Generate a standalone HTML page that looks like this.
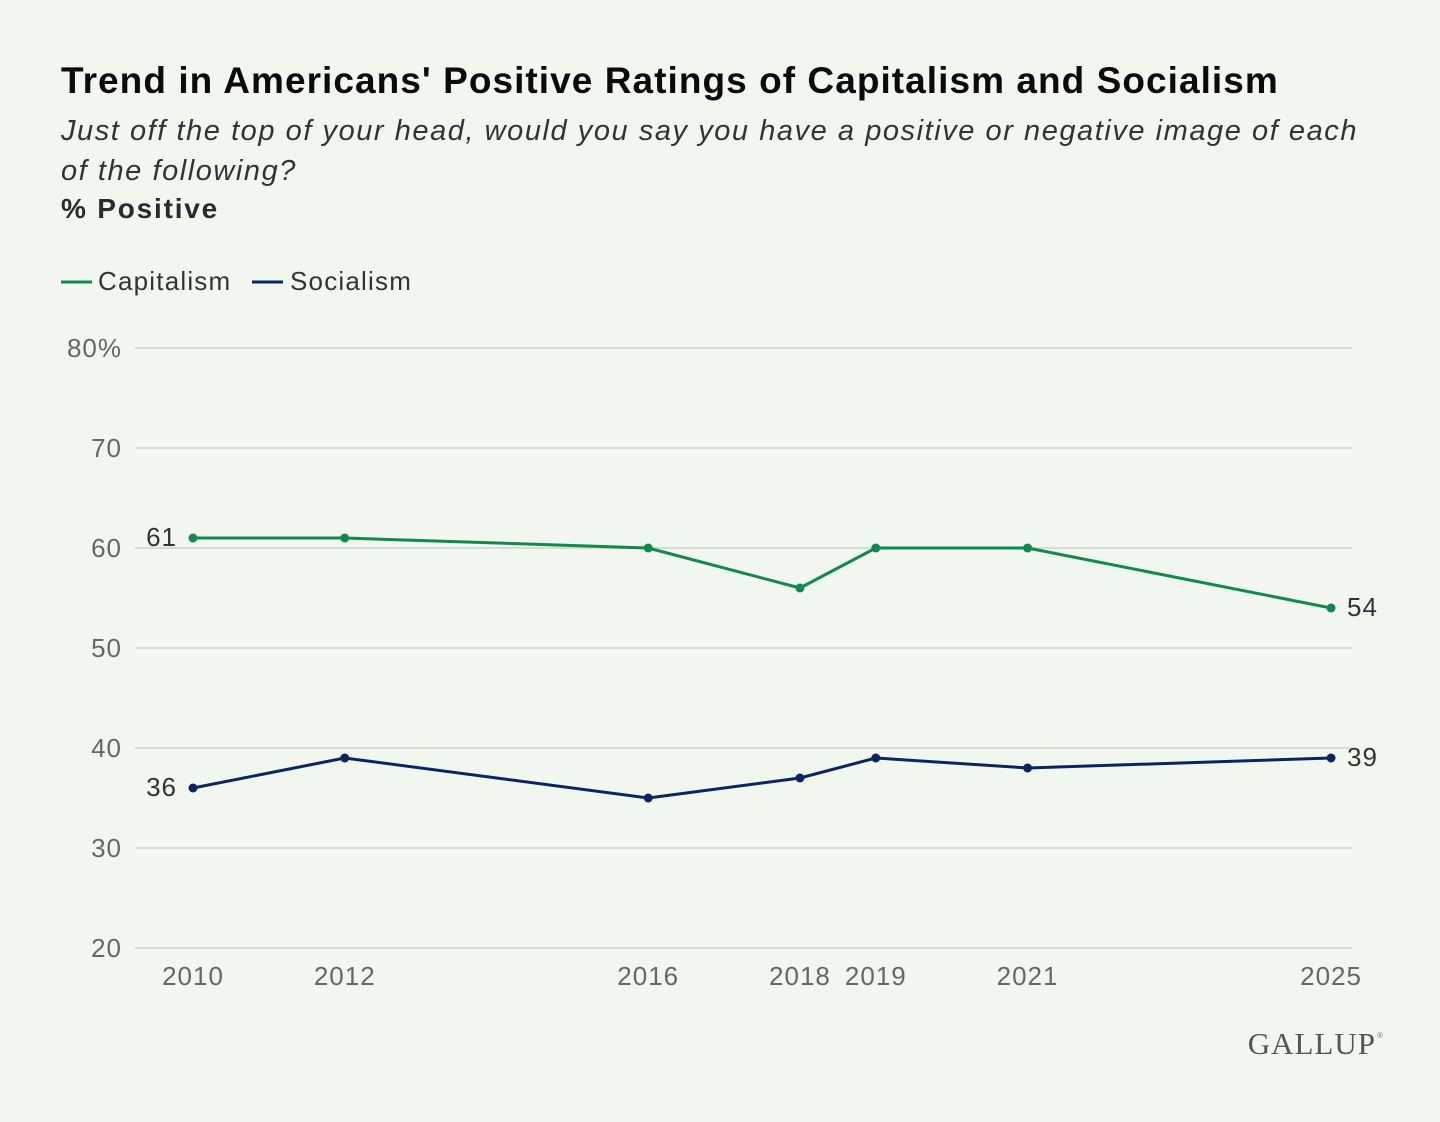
<!DOCTYPE html>
<html><head><meta charset="utf-8"><style>
body{margin:0;background:#f1f7ef;width:1440px;height:1122px;overflow:hidden;font-family:"Liberation Sans",sans-serif;}
.t{position:absolute;left:61px;top:60px;font-size:37px;font-weight:bold;color:#0b0b0b;letter-spacing:1.05px;white-space:nowrap;}
.s{position:absolute;left:61px;top:111px;font-size:29px;font-style:italic;color:#333;line-height:40px;letter-spacing:1.55px;white-space:nowrap;}
.p{position:absolute;left:61px;top:193px;font-size:28px;font-weight:bold;color:#2a2a2a;letter-spacing:1.8px;}
</style></head><body>
<div class="t">Trend in Americans' Positive Ratings of Capitalism and Socialism</div>
<div class="s">Just off the top of your head, would you say you have a positive or negative image of each<br>of the following?</div>
<div class="p">% Positive</div>
<svg id="c" width="1440" height="1122" style="position:absolute;left:0;top:0">
<g>
<line x1="61" y1="282" x2="92" y2="282" stroke="#13884c" stroke-width="3"/>
<text x="98" y="290" font-size="26" letter-spacing="1.2" fill="#333">Capitalism</text>
<line x1="252" y1="282" x2="283" y2="282" stroke="#0b2562" stroke-width="3"/>
<text x="290" y="290" font-size="26" letter-spacing="1.2" fill="#333">Socialism</text>
</g>
<text x="1376" y="1054" font-size="31" letter-spacing="1" fill="#555" text-anchor="end" font-family="Liberation Serif,serif">GALLUP</text>
<text x="1377" y="1038" font-size="8" fill="#777">®</text>
</svg>
<script>
const years=[2010,2012,2016,2018,2019,2021,2025];
const capitalism=[61,61,60,56,60,60,54];
const socialism=[36,39,35,37,39,38,39];
const yTicks=[20,30,40,50,60,70,80];
const svg=document.getElementById('c');
const NS='http://www.w3.org/2000/svg';
const x=y=>193+(y-2010)*75.87;
const yS=v=>948-(v-20)*10;
function mk(t,a){const e=document.createElementNS(NS,t);for(const k in a)e.setAttribute(k,a[k]);svg.appendChild(e);return e;}
yTicks.forEach(v=>{
 const l=mk('line',{x1:135,x2:1352,y1:yS(v),y2:yS(v),stroke:'#d6dbd4','stroke-width':2});
 
 
 const t=mk('text',{x:122,y:yS(v)+9,'font-size':26,'letter-spacing':1,fill:'#666','text-anchor':'end'});
 t.textContent=v===80?'80%':v;
 
 
});
years.forEach(yr=>{
 const t=mk('text',{x:x(yr),y:985,'font-size':26,'letter-spacing':1,fill:'#666','text-anchor':'middle'});
 t.textContent=yr;
 
 
});
function series(vals,col,name){
 const p=mk('polyline',{points:vals.map((v,i)=>x(years[i])+','+yS(v)).join(' '),fill:'none',stroke:col,'stroke-width':3,'stroke-linejoin':'round'});
 
 
 vals.forEach((v,i)=>{
  const c=mk('circle',{cx:x(years[i]),cy:yS(v),r:4.5,fill:col});
  
  
 });
 const a=mk('text',{x:x(years[0])-16,y:yS(vals[0])+8,'font-size':26,'letter-spacing':1,fill:'#333','text-anchor':'end'});
 a.textContent=vals[0];
 
 
 const n=vals.length-1;
 const b=mk('text',{x:x(years[n])+16,y:yS(vals[n])+8,'font-size':26,'letter-spacing':1,fill:'#333'});
 b.textContent=vals[n];
 
 
}
series(capitalism,'#13884c','capitalism');
series(socialism,'#0b2562','socialism');
</script>
</body></html>
